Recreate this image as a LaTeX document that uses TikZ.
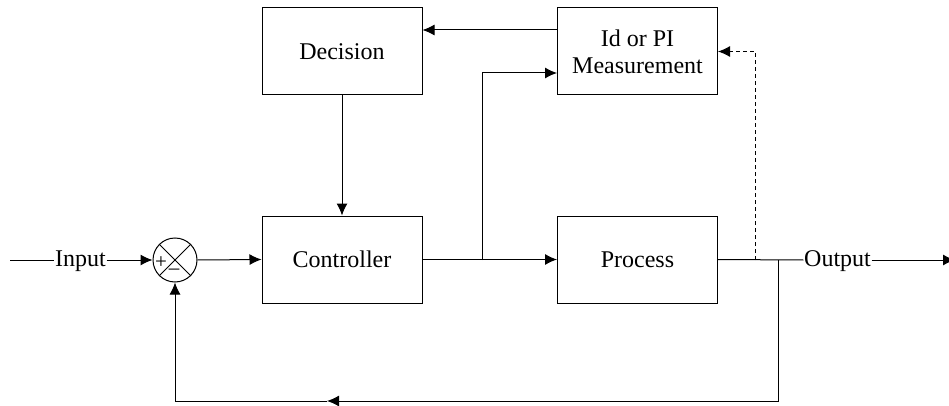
\documentclass[tikz,border=0pt]{standalone}
\usepackage{fontspec}
\setmainfont{Liberation Serif}
\usetikzlibrary{arrows.meta}
\begin{document}
\begin{tikzpicture}[x=1pt,y=-1pt,
  txt/.style={font=\fontsize{24}{27}\selectfont},
  block/.style={draw, line width=1pt, minimum width=160pt, minimum height=87pt,
                inner sep=0pt, align=center, txt},
  conn/.style={line width=1pt},
  arr/.style={conn, -{Latex[length=12pt,width=11pt]}},
  lbl/.style={txt, inner sep=0.5pt},
  sign/.style={font=\fontsize{21}{21}\selectfont, inner sep=0pt}]
\useasboundingbox (0,0) rectangle (949,406);

% blocks
\node[block] (dec)  at (342,51.5)   {Decision};
\node[block] (meas) at (637.5,51.5) {Id or PI\\Measurement};
\node[block] (ctrl) at (342,259.5)  {Controller};
\node[block] (proc) at (637.5,259.5){Process};

% summing junction
\node[draw, circle, minimum size=44pt, inner sep=0pt, line width=1pt] (sum) at (175,260) {};
\draw[conn] (sum.north west) -- (sum.south east)
            (sum.north east) -- (sum.south west);
\node[sign] (plus)  at (161,263) {+};
\node[sign] (minus) at (174,271.5) {\textendash};

% signal labels
\coordinate (in) at (10,260);
\node[lbl] (inlbl)  at (80.5,261)  {Input};
\node[lbl] (outlbl) at (837.5,261) {Output};
\coordinate (out) at (955,260);

% forward path
\draw[conn] (in) -- (inlbl.west |- in);
\draw[arr] (inlbl.east |- in) -- (sum.west);
\draw[arr] (sum.east) -- (ctrl.west);
\draw[arr] (ctrl.east) -- (proc.west);
\draw[conn] (proc.east) -- (outlbl.west |- out);
\draw[arr] (outlbl.east |- out) -- (out);

% measurement branch and decision loop
\coordinate (br) at (482,260);
\draw[arr] (br) -- (br |- 0,73) -- (meas.west |- 0,73);
\draw[arr] (meas.west |- 0,30) -- (dec.east |- 0,30);
\draw[arr] (dec.south) -- (ctrl.north);

% dashed output tap to measurement
\coordinate (tapD) at (755,260);
\draw[arr, dash pattern=on 4pt off 3pt] (tapD) |- (meas.east);

% feedback path
\coordinate (tapF) at (778,260);
\coordinate (fbM) at (327,401);
\draw[arr] (tapF) |- (fbM);
\draw[arr] (fbM) -| (sum.south);
\end{tikzpicture}
\end{document}
